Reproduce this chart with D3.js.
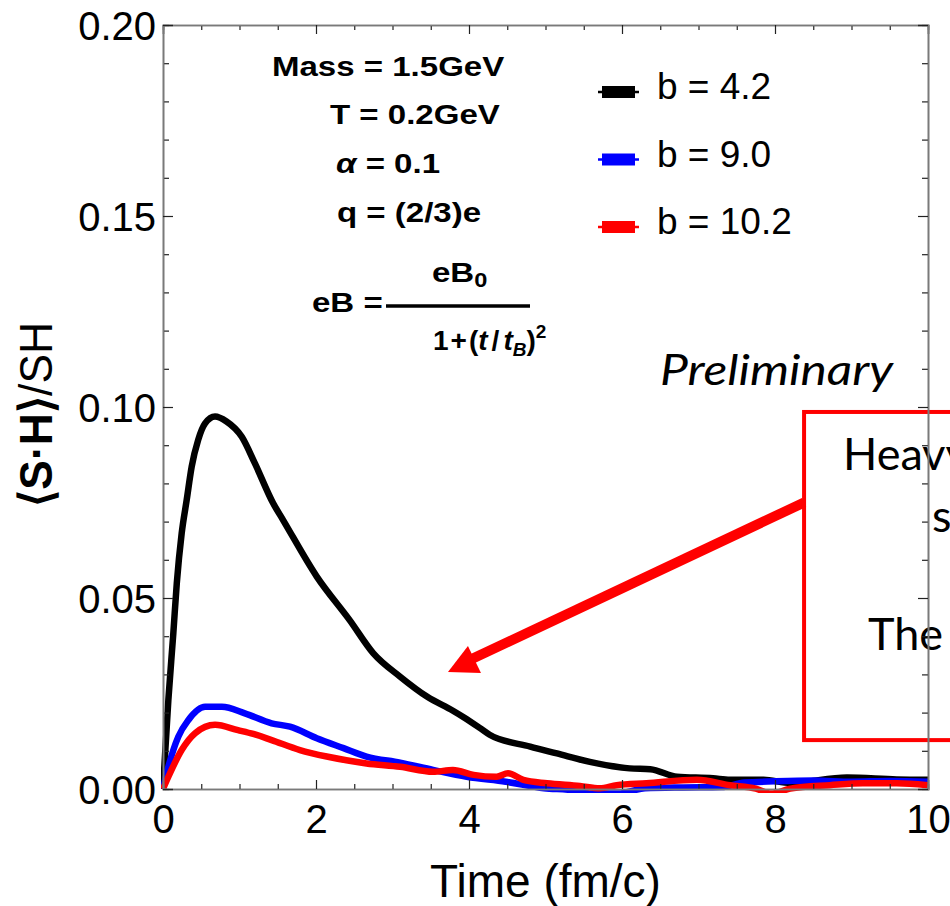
<!DOCTYPE html>
<html>
<head>
<meta charset="utf-8">
<script src="https://cdn.jsdelivr.net/npm/d3@7"></script>
<style>
  body { margin: 0; background: #fff; }
  svg { display: block; }
  .tick text { font-family: "Liberation Sans", Arial, sans-serif; }
</style>
</head>
<body>
<figure id="spin-chart" style="margin:0"></figure>
<script>
// b = 4.2 (black)
const timeB42 = [0, 0.07, 0.135, 0.18, 0.244, 0.31, 0.375, 0.46, 0.55, 0.68, 0.83, 1.03, 1.2, 1.44, 1.57, 2.01, 2.44, 2.75, 3.1, 3.45, 3.79, 3.93, 4.14, 4.27, 4.8, 5.15, 5.58, 6.1, 6.37, 6.72, 7.19, 7.41, 7.85, 8.2, 8.94, 9.59, 10];
const valB42  = [0, 0.0233, 0.0408, 0.0538, 0.0669, 0.0757, 0.0844, 0.0914, 0.0957, 0.0975, 0.0962, 0.0922, 0.0853, 0.0748, 0.0704, 0.0556, 0.0442, 0.0355, 0.0294, 0.0242, 0.0205, 0.0188, 0.016, 0.0142, 0.0111, 0.0093, 0.0071, 0.0054, 0.0052, 0.0032, 0.0028, 0.0024, 0.0024, 0.0016, 0.003, 0.0025, 0.0024];

// b = 9.0 (blue)
const timeB90 = [0, 0.07, 0.2, 0.33, 0.55, 0.77, 1.07, 1.42, 1.66, 2.01, 2.36, 2.66, 3.1, 3.53, 3.97, 4.48, 4.98, 5.34, 5.6, 5.95, 6.3, 6.8, 7.3, 7.6, 8.0, 8.5, 9.0, 9.5, 10];
const valB90  = [0, 0.0058, 0.0137, 0.018, 0.0215, 0.0215, 0.0198, 0.0172, 0.0163, 0.0133, 0.0107, 0.0085, 0.0069, 0.005, 0.0032, 0.0019, 0.0002, -0.0003, -0.0012, -0.0012, 0.0002, 0.0004, 0.0005, 0.0017, 0.002, 0.0022, 0.0019, 0.0021, 0.0019];

// b = 10.2 (red)
const timeB102 = [0, 0.07, 0.244, 0.42, 0.68, 0.98, 1.18, 1.42, 1.79, 2.14, 2.66, 3.1, 3.53, 3.79, 4.06, 4.36, 4.51, 4.71, 5.02, 5.45, 5.71, 5.93, 6.32, 6.98, 7.41, 7.75, 7.95, 8.2, 8.72, 9.15, 9.59, 10];
const valB102  = [0, 0.0032, 0.0102, 0.0146, 0.0168, 0.0154, 0.0144, 0.0128, 0.0102, 0.0085, 0.0067, 0.0058, 0.0045, 0.005, 0.0037, 0.0032, 0.0041, 0.0024, 0.0015, 0.0008, 0.0002, 0.001, 0.0015, 0.0024, 0.001, 0.0001, -0.0012, 0.0001, 0.001, 0.0015, 0.0015, 0.001];

const seriesNames = ["b = 4.2", "b = 9.0", "b = 10.2"];
const seriesColors = ["#000000", "#0000ff", "#ff0000"];

const xMajorTicks = [0, 2, 4, 6, 8, 10];
const yMajorTicks = [0, 0.05, 0.10, 0.15, 0.20];
const yTickLabels = ["0.00", "0.05", "0.10", "0.15", "0.20"];

const width = 950;
const height = 906;
const margin = { top: 25, right: 22, bottom: 117, left: 163 };

const svg = d3.select("figure#spin-chart")
  .append("svg")
  .attr("width", width)
  .attr("height", height);

const x = d3.scaleLinear().domain([0, 10]).range([margin.left, width - margin.right]);
const y = d3.scaleLinear().domain([0, 0.2]).range([height - margin.bottom, margin.top]);

const xMinor = d3.range(0, 10.001, 0.5).filter(d => Math.abs(d % 2) > 1e-6);
const yMinor = d3.range(0, 0.2001, 0.01).filter(d => Math.abs((d * 100) % 5) > 1e-6);

const sansFont = '"Liberation Sans", Arial, sans-serif';
const calibriLike = 'Lato, "Open Sans", sans-serif';

// annotation box (under the frame)
const boxLeft = x(8.38), boxTop = y(0.0987), boxBottom = y(0.0128);
svg.append("rect")
  .attr("x", boxLeft)
  .attr("y", boxTop)
  .attr("width", 400)
  .attr("height", boxBottom - boxTop)
  .attr("fill", "#fff")
  .attr("stroke", "#ff0000")
  .attr("stroke-width", 4);

const boxText = svg.append("g")
  .attr("font-family", calibriLike)
  .attr("font-size", 45)
  .attr("fill", "#000");
boxText.append("text").attr("x", 843).attr("y", 470).text("Heavy quark");
boxText.append("text").attr("x", 932).attr("y", 532).text("spin");
boxText.append("text").attr("x", 868).attr("y", 650).text("The");

// curves
const clipId = "plot-clip";
svg.append("clipPath").attr("id", clipId)
  .append("rect")
  .attr("x", x(0) - 2)
  .attr("y", y(0.2))
  .attr("width", x(10) - x(0) + 2)
  .attr("height", y(0) - y(0.2) + 4);

const line = d3.line()
  .curve(d3.curveMonotoneX)
  .x(d => x(d[0]))
  .y(d => y(d[1]));

const seriesData = [
  d3.zip(timeB42, valB42),
  d3.zip(timeB90, valB90),
  d3.zip(timeB102, valB102)
];

svg.append("g")
  .attr("clip-path", `url(#${clipId})`)
  .selectAll("path")
  .data(seriesData)
  .join("path")
  .attr("d", line)
  .attr("fill", "none")
  .attr("stroke", (d, i) => seriesColors[i])
  .attr("stroke-width", 6.5)
  .attr("stroke-linejoin", "round");

// frame + ticks
const frameColor = "#7a7a7a";

const gx = svg.append("g").attr("transform", `translate(0,${y(0)})`);
gx.call(d3.axisBottom(x).tickValues(xMinor).tickSize(-5).tickFormat(""));
gx.append("g").call(d3.axisBottom(x).tickValues(xMajorTicks).tickSize(-9).tickFormat(d3.format("d")));

const gxTop = svg.append("g").attr("transform", `translate(0,${y(0.2)})`);
gxTop.call(d3.axisTop(x).tickValues(xMinor).tickSize(-5).tickFormat(""));
gxTop.append("g").call(d3.axisTop(x).tickValues(xMajorTicks).tickSize(-9).tickFormat(""));

const gy = svg.append("g").attr("transform", `translate(${x(0)},0)`);
gy.call(d3.axisLeft(y).tickValues(yMinor).tickSize(-6).tickFormat(""));
gy.append("g").call(d3.axisLeft(y).tickValues(yMajorTicks).tickSize(-10)
  .tickFormat((d, i) => yTickLabels[i]));

const gyRight = svg.append("g").attr("transform", `translate(${x(10)},0)`);
gyRight.call(d3.axisRight(y).tickValues(yMinor).tickSize(-6).tickFormat(""));
gyRight.append("g").call(d3.axisRight(y).tickValues(yMajorTicks).tickSize(-10).tickFormat(""));

svg.selectAll(".domain").attr("stroke", frameColor).attr("stroke-width", 1.6);
svg.selectAll(".tick line").attr("stroke", "#222").attr("stroke-width", 1.2);

gx.selectAll(".tick text")
  .attr("y", 44)
  .attr("dy", null)
  .attr("font-size", 40)
  .attr("fill", "#000");

gy.selectAll(".tick text")
  .attr("x", -7)
  .attr("dy", "0.35em")
  .attr("font-size", 40)
  .attr("fill", "#000");

// axis titles
svg.append("text")
  .attr("x", (x(0) + x(10)) / 2)
  .attr("y", 897)
  .attr("text-anchor", "middle")
  .attr("font-family", sansFont)
  .attr("font-size", 46)
  .text("Time (fm/c)");

const yTitle = svg.append("text")
  .attr("transform", `translate(52,${507}) rotate(-90)`)
  .attr("font-family", sansFont)
  .attr("font-size", 46)
  .attr("textLength", 185)
  .attr("lengthAdjust", "spacingAndGlyphs");
yTitle.append("tspan").attr("font-weight", "bold").text("⟨S·H⟩");
yTitle.append("tspan").text("/SH");

// parameter block: bold Arial, stretched horizontally like the original export
const sx = 1.18;
const params = svg.append("g")
  .attr("transform", `scale(${sx},1)`)
  .attr("font-family", sansFont)
  .attr("font-weight", "bold")
  .attr("font-size", 28)
  .attr("fill", "#000");

params.append("text").attr("x", 272 / sx).attr("y", 76).text("Mass = 1.5GeV");
params.append("text").attr("x", 330 / sx).attr("y", 124).text("T = 0.2GeV");
const alphaLine = params.append("text").attr("x", 336 / sx).attr("y", 173);
alphaLine.append("tspan").attr("font-style", "italic").text("α");
alphaLine.append("tspan").text(" = 0.1");
params.append("text").attr("x", 337 / sx).attr("y", 222).text("q = (2/3)e");

// eB fraction
params.append("text").attr("x", 312 / sx).attr("y", 312).text("eB =");
const numer = params.append("text").attr("x", 432 / sx).attr("y", 282);
numer.append("tspan").text("eB");
numer.append("tspan").attr("font-size", 20).attr("dy", 5).text("0");

const frac = svg.append("g")
  .attr("font-family", sansFont)
  .attr("font-weight", "bold")
  .attr("fill", "#000");
frac.append("line")
  .attr("x1", 386).attr("x2", 530)
  .attr("y1", 306).attr("y2", 306)
  .attr("stroke", "#000").attr("stroke-width", 3.5);
const denom = frac.append("text").attr("x", 433).attr("y", 350).attr("font-size", 28);
denom.append("tspan").text("1");
denom.append("tspan").attr("dx", 2).text("+");
denom.append("tspan").attr("dx", 2).text("(");
denom.append("tspan").attr("font-style", "italic").text("t");
denom.append("tspan").attr("dx", 4).text("/");
denom.append("tspan").attr("dx", 4).attr("font-style", "italic").text("t");
denom.append("tspan").attr("font-style", "italic").attr("font-size", 19).attr("dy", 6).text("B");
denom.append("tspan").attr("dy", -6).text(")");
denom.append("tspan").attr("font-size", 19).attr("dy", -12).text("2");

// legend
const legend = svg.append("g")
  .selectAll("g")
  .data(seriesNames)
  .join("g")
  .attr("transform", (d, i) => `translate(0,${92 + i * 67.5})`);
legend.append("line")
  .attr("x1", 598).attr("x2", 639)
  .attr("stroke", (d, i) => seriesColors[i])
  .attr("stroke-width", 2.5);
legend.append("line")
  .attr("x1", 602).attr("x2", 635)
  .attr("stroke", (d, i) => seriesColors[i])
  .attr("stroke-width", 12);
legend.append("text")
  .attr("x", 657)
  .attr("y", 7)
  .attr("font-family", sansFont)
  .attr("font-size", 37)
  .text(d => d);

// Preliminary
svg.append("text")
  .attr("x", 660)
  .attr("y", 385)
  .attr("font-family", calibriLike)
  .attr("font-style", "italic")
  .attr("font-size", 42)
  .attr("textLength", 233)
  .attr("lengthAdjust", "spacingAndGlyphs")
  .text("Preliminary");

// arrow from the box to the curves
const tip = [x(3.725), y(0.0306)];
const tail = [boxLeft, y(0.075)];
svg.append("line")
  .attr("x1", tail[0]).attr("y1", tail[1])
  .attr("x2", x(3.98)).attr("y2", y(0.0335))
  .attr("stroke", "#ff0000")
  .attr("stroke-width", 10);
svg.append("path")
  .attr("d", `M${tip[0]},${tip[1]} L${tip[0] + 20},${tip[1] - 26} L${tip[0] + 33},${tip[1] + 1} Z`)
  .attr("fill", "#ff0000");
</script>
</body>
</html>
